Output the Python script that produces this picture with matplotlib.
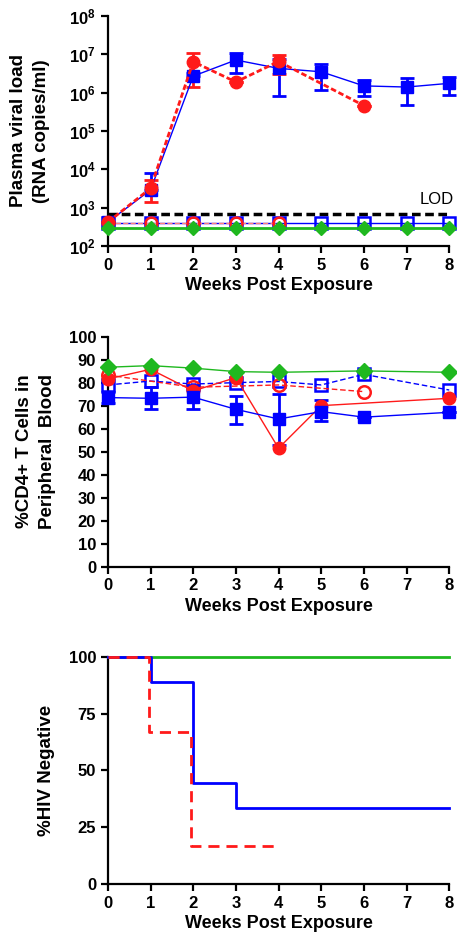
import matplotlib
matplotlib.use("Agg")
import matplotlib.pyplot as plt
import matplotlib.ticker as mticker
import numpy as np

plt.rcParams['font.family'] = ['Liberation Sans', 'DejaVu Sans']
plt.rcParams['font.weight'] = 'bold'
plt.rcParams['mathtext.fontset'] = 'custom'
plt.rcParams['mathtext.rm'] = 'Liberation Sans:bold'
plt.rcParams['mathtext.bf'] = 'Liberation Sans:bold'

BLUE = '#0000ff'
RED = '#ff1a1a'
GREEN = '#1fb81f'

weeks = [0, 1, 2, 3, 4, 5, 6, 7, 8]

# --- panel A: plasma viral load ---
vl_blue_x = [0, 1, 2, 3, 4, 5, 6, 7, 8]
vl_blue = [420, 2900, 2.7e6, 7.1e6, 4.3e6, 3.5e6, 1.5e6, 1.4e6, 1.75e6]
vl_blue_lo = [420, 2900, 2.7e6, 3.2e6, 8.0e5, 1.2e6, 8.0e5, 4.8e5, 8.8e5]
vl_blue_hi = [420, 8100, 3.3e6, 1.07e7, 7.4e6, 5.6e6, 2.1e6, 2.4e6, 2.5e6]

vl_red_x = [0, 1, 2, 3, 4, 6]
vl_red = [420, 3200, 6.4e6, 1.9e6, 6.5e6, 4.6e5]
vl_red_lo = [420, 1400, 1.4e6, 1.9e6, 3.1e6, 4.6e5]
vl_red_hi = [420, 5200, 1.1e7, 1.9e6, 9.6e6, 4.6e5]

vl_blue_open_x = [0, 1, 2, 3, 4, 5, 6, 7, 8]
vl_blue_open = [400, 400, 400, 400, 400, 400, 400, 400, 400]
vl_red_open_x = [0, 1, 2, 3, 4]
vl_red_open = [400, 400, 400, 400, 400]
vl_green_x = [0, 1, 2, 3, 4, 5, 6, 7, 8]
vl_green = [300, 300, 300, 300, 300, 300, 300, 300, 300]
lod = 700

# --- panel B: %CD4+ T cells ---
cd4_green_x = [0, 1, 2, 3, 4, 6, 8]
cd4_green = [86.7, 87.4, 86.3, 84.8, 84.5, 85.1, 84.5]
cd4_blue_x = [0, 1, 2, 3, 4, 5, 6, 8]
cd4_blue = [73.5, 73.2, 73.7, 68.4, 64.2, 67.4, 65.0, 67.1]
cd4_blue_lo = [71.0, 68.4, 68.6, 62.0, 52.9, 63.5, 65.0, 67.1]
cd4_blue_hi = [76.0, 78.0, 78.8, 74.2, 75.1, 72.5, 65.0, 67.1]
cd4_blue_open_x = [0, 1, 2, 3, 4, 5, 6, 8]
cd4_blue_open = [79.0, 80.7, 79.4, 80.0, 80.5, 79.0, 83.6, 76.8]
cd4_red_x = [0, 1, 2, 3, 4, 5, 8]
cd4_red = [81.6, 85.8, 76.4, 82.2, 51.5, 70.0, 73.2]
cd4_red_open_x = [0, 2, 4, 6]
cd4_red_open = [83.3, 78.0, 79.0, 76.1]

# --- panel C: % HIV negative ---
surv_green_x = [0, 8]
surv_green = [100, 100]
surv_blue_x = [0, 1, 2, 3, 8]
surv_blue = [100, 88.9, 44.4, 33.3, 33.3]
surv_red_x = [0, 0.96, 1.96, 4]
surv_red = [100, 66.7, 16.7, 16.7]

fig = plt.figure(figsize=(4.57, 9.39), dpi=100)
axA = fig.add_axes([0.236, 0.738, 0.747, 0.245])
axB = fig.add_axes([0.236, 0.3965, 0.747, 0.245])
axC = fig.add_axes([0.236, 0.0586, 0.747, 0.242])


def style(ax):
    for s in ['top', 'right']:
        ax.spines[s].set_visible(False)
    for s in ['left', 'bottom']:
        ax.spines[s].set_linewidth(1.6)
    ax.tick_params(width=1.6, length=5, labelsize=12, direction='out')
    ax.set_xlim(0, 8)
    ax.set_xticks(weeks)
    ax.set_xlabel('Weeks Post Exposure', fontsize=13, fontweight='bold', labelpad=3)


def err(lo, v, hi):
    return [np.array(v) - np.array(lo), np.array(hi) - np.array(v)]


# panel A
axA.set_yscale('log')
axA.set_ylim(1e2, 1e8)
axA.plot([0, 8], [lod, lod], color='black', lw=2.5, ls=(0, (2.5, 1.3)), clip_on=False, zorder=2)
axA.text(8.1, lod * 1.45, 'LOD', fontsize=12, fontweight='normal', ha='right', va='bottom')
axA.plot(vl_green_x, vl_green, color=GREEN, lw=2, marker='D', ms=7.5, clip_on=False, zorder=5)
axA.plot(vl_blue_open_x, vl_blue_open, color=BLUE, lw=1, marker='s', ms=9, mfc='none', mew=1.8,
         clip_on=False, zorder=3)
axA.plot(vl_red_open_x, vl_red_open, color='#ff8080', lw=1, ls='--', marker='o', ms=8.5, mfc='none',
         mec=RED, mew=1.8, clip_on=False, zorder=3)
axA.errorbar(vl_blue_x, vl_blue, yerr=err(vl_blue_lo, vl_blue, vl_blue_hi), color=BLUE, lw=1,
             marker='s', ms=9, elinewidth=2, capsize=5, capthick=2, clip_on=False, zorder=4)
axA.errorbar(vl_red_x, vl_red, yerr=err(vl_red_lo, vl_red, vl_red_hi), color=RED, lw=2,
             ls=(0, (2, 1)), marker='o', ms=9, elinewidth=2, capsize=5, capthick=2,
             clip_on=False, zorder=4)
axA.yaxis.set_major_locator(mticker.LogLocator(base=10, numticks=10))
axA.yaxis.set_minor_locator(mticker.NullLocator())
axA.yaxis.set_major_formatter(mticker.FuncFormatter(lambda v, p: r'$\mathbf{10^{%d}}$' % round(np.log10(v))))
axA.set_ylabel('Plasma viral load\n(RNA copies/ml)', fontsize=13.5, fontweight='bold',
               linespacing=1.45, labelpad=14)
style(axA)

# panel B
axB.set_ylim(0, 100)
axB.set_yticks(range(0, 101, 10))
axB.plot(cd4_green_x, cd4_green, color=GREEN, lw=1, marker='D', ms=8, clip_on=False, zorder=5)
axB.plot(cd4_blue_open_x, cd4_blue_open, color=BLUE, lw=1, ls=(0, (4, 2)), marker='s', ms=9,
         mfc='none', mew=1.8, clip_on=False, zorder=3)
axB.plot(cd4_red_open_x, cd4_red_open, color=RED, lw=1, ls=(0, (4, 2)), marker='o', ms=9,
         mfc='none', mew=1.8, clip_on=False, zorder=3)
axB.errorbar(cd4_blue_x, cd4_blue, yerr=err(cd4_blue_lo, cd4_blue, cd4_blue_hi), color=BLUE, lw=1,
             marker='s', ms=9, elinewidth=2, capsize=5, capthick=2, clip_on=False, zorder=4)
axB.plot(cd4_red_x, cd4_red, color=RED, lw=1, marker='o', ms=9, clip_on=False, zorder=4)
axB.set_ylabel('%CD4+ T Cells in\nPeripheral  Blood', fontsize=13.5, fontweight='bold',
               linespacing=1.45, labelpad=9)
style(axB)

# panel C
axC.set_ylim(0, 100)
axC.set_yticks([0, 25, 50, 75, 100])
axC.step(surv_green_x, surv_green, where='post', color=GREEN, lw=2, clip_on=False, zorder=3)
axC.step(surv_blue_x, surv_blue, where='post', color=BLUE, lw=2, clip_on=False, zorder=4)
axC.step(surv_red_x, surv_red, where='post', color=RED, lw=2, ls=(0, (4, 2.5)), clip_on=False, zorder=5)
axC.set_ylabel('%HIV Negative', fontsize=13.5, fontweight='bold', labelpad=10)
style(axC)

fig.savefig('out.png', dpi=100)
